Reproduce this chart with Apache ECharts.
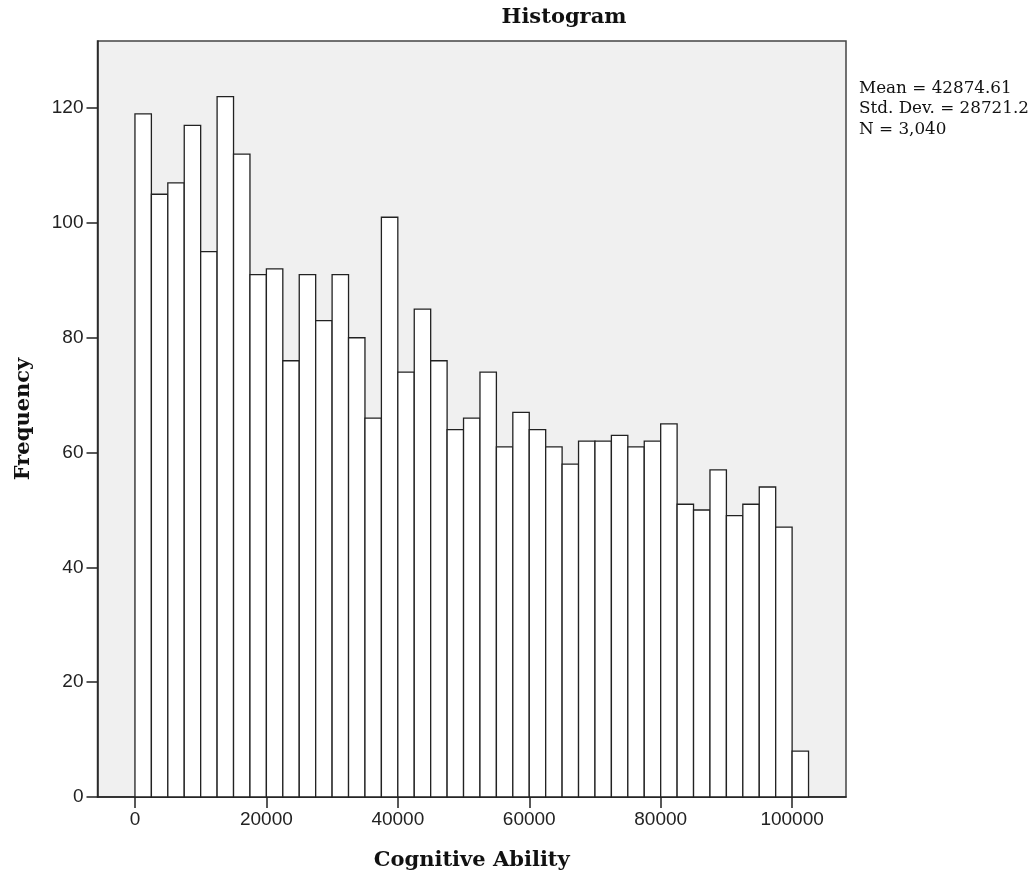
<!DOCTYPE html>
<html>
<head>
<meta charset="utf-8">
<script src="https://cdn.jsdelivr.net/npm/echarts@6/dist/echarts.min.js"></script>
<style>
  html, body { margin: 0; padding: 0; background: #fff; }
  #chart { width: 1036px; height: 882px; }
</style>
</head>
<body>
<div id="chart"></div>
<script>
// Histogram bins (lower edges) and frequencies
const binLower = [0, 2500, 5000, 7500, 10000, 12500, 15000, 17500, 20000, 22500,
  25000, 27500, 30000, 32500, 35000, 37500, 40000, 42500, 45000, 47500,
  50000, 52500, 55000, 57500, 60000, 62500, 65000, 67500, 70000, 72500,
  75000, 77500, 80000, 82500, 85000, 87500, 90000, 92500, 95000, 97500, 100000];
const binWidth = 2500;
const frequency = [119, 105, 107, 117, 95, 122, 112, 91, 92, 76,
  91, 83, 91, 80, 66, 101, 74, 85, 76, 64,
  66, 74, 61, 67, 64, 61, 58, 62, 62, 63,
  61, 62, 65, 51, 50, 57, 49, 51, 54, 47, 8];
const xTicks = [0, 20000, 40000, 60000, 80000, 100000];
const yTicks = [0, 20, 40, 60, 80, 100, 120];
const statsLines = ['Mean = 42874.61', 'Std. Dev. = 28721.2', 'N = 3,040'];

const data = binLower.map((lo, i) => [lo, lo + binWidth, frequency[i]]);

const chart = echarts.init(document.getElementById('chart'), null, { renderer: 'canvas' });

const labelFont = { fontFamily: 'Liberation Sans', fontSize: 19, color: '#222' };
const titleFont = { fontFamily: 'DejaVu Serif', fontWeight: 'bold', fontSize: 21, color: '#111' };

chart.setOption({
  animation: false,
  backgroundColor: '#ffffff',
  title: {
    text: 'Histogram',
    left: 559,
    top: 2,
    textAlign: 'center',
    textStyle: titleFont
  },
  graphic: [{
    type: 'text',
    left: 859,
    top: 78,
    style: {
      text: statsLines.join('\n'),
      font: '16.8px "DejaVu Serif"',
      lineHeight: 20.5,
      fill: '#111'
    }
  }],
  grid: {
    left: 97.5,
    right: 190,
    top: 41,
    bottom: 85,
    show: true,
    backgroundColor: '#f0f0f0',
    borderColor: '#444',
    borderWidth: 1.5,
    containLabel: false,
    outerBoundsMode: 'none'
  },
  xAxis: {
    type: 'value',
    min: -5700,
    max: 108200,
    name: 'Cognitive Ability',
    nameLocation: 'middle',
    nameGap: 53,
    nameTextStyle: titleFont,
    axisLine: { show: true, onZero: false, lineStyle: { color: '#222', width: 1.5 } },
    axisTick: { show: true, length: 11, customValues: xTicks, lineStyle: { color: '#222', width: 1.5 } },
    axisLabel: Object.assign({ customValues: xTicks, margin: 13, formatter: v => String(v) }, labelFont),
    splitLine: { show: false }
  },
  yAxis: {
    type: 'value',
    min: 0,
    max: 131.7,
    name: 'Frequency',
    nameLocation: 'middle',
    nameGap: 63,
    nameRotate: 90,
    nameTextStyle: titleFont,
    axisLine: { show: true, onZero: false, lineStyle: { color: '#222', width: 1.5 } },
    axisTick: { show: true, length: 11, customValues: yTicks, lineStyle: { color: '#222', width: 1.5 } },
    axisLabel: Object.assign({ customValues: yTicks, margin: 14, formatter: v => String(v) }, labelFont),
    splitLine: { show: false }
  },
  series: [{
    type: 'custom',
    data: data,
    encode: { x: [0, 1], y: 2 },
    renderItem: function (params, api) {
      const p0 = api.coord([api.value(0), 0]);
      const p1 = api.coord([api.value(1), api.value(2)]);
      return {
        type: 'rect',
        shape: { x: p0[0], y: p1[1], width: p1[0] - p0[0], height: p0[1] - p1[1] },
        style: { fill: '#ffffff', stroke: '#222', lineWidth: 1.3 }
      };
    }
  }]
});
</script>
</body>
</html>
